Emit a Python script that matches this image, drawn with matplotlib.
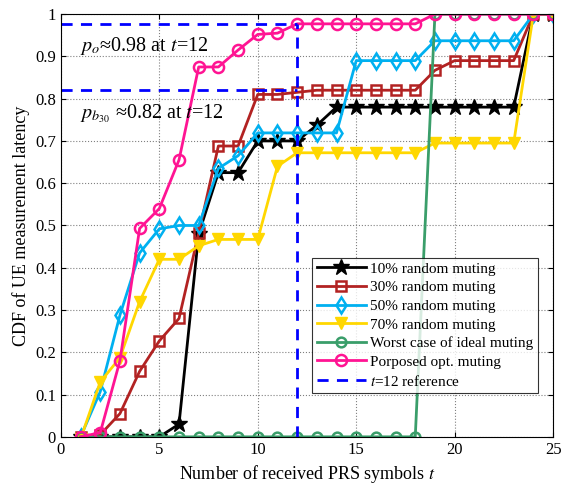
import matplotlib
matplotlib.use("Agg")
import matplotlib.pyplot as plt

plt.rcParams['font.family'] = ['Liberation Serif', 'DejaVu Serif']
plt.rcParams['mathtext.fontset'] = 'stix'

# Number of received PRS symbols
t = list(range(1, 26))

# CDF values
cdf_10 = [0, 0, 0, 0, 0, 0.03, 0.48, 0.625, 0.625, 0.70, 0.70, 0.70, 0.737, 0.78,
          0.78, 0.78, 0.78, 0.78, 0.78, 0.78, 0.78, 0.78, 0.78, 1.0, 1.0]
cdf_30 = [0, 0.005, 0.055, 0.155, 0.227, 0.28, 0.482, 0.688, 0.688, 0.81, 0.81, 0.815, 0.82, 0.82,
          0.82, 0.82, 0.82, 0.82, 0.867, 0.89, 0.89, 0.89, 0.89, 1.0, 1.0]
cdf_50 = [0, 0.107, 0.288, 0.435, 0.492, 0.50, 0.50, 0.635, 0.665, 0.719, 0.719, 0.719, 0.719, 0.719,
          0.89, 0.89, 0.89, 0.89, 0.937, 0.937, 0.937, 0.937, 0.937, 1.0, 1.0]
cdf_70 = [-0.005, 0.13, 0.187, 0.32, 0.42, 0.42, 0.452, 0.467, 0.467, 0.467, 0.64, 0.672, 0.672, 0.672,
          0.672, 0.672, 0.672, 0.672, 0.695, 0.695, 0.695, 0.695, 0.695, 1.0, 1.0]
cdf_worst = [0] * 18 + [1.0] * 7
cdf_opt = [0, 0.01, 0.18, 0.493, 0.54, 0.655, 0.875, 0.875, 0.915, 0.952, 0.955, 0.977, 0.977, 0.977,
           0.977, 0.977, 0.977, 0.977, 1.0, 1.0, 1.0, 1.0, 1.0, 1.0, 1.0]

t_ref = 12
p_opt = 0.977
p_b30 = 0.82

fig = plt.figure(figsize=(5.69, 4.87), dpi=100)
ax = fig.add_axes([0.107, 0.103, 0.865, 0.868])

ax.plot(t, cdf_10, color='black', lw=2, marker='*', ms=12, label='10% random muting')
ax.plot(t, cdf_30, color='#b22222', lw=2, marker='s', ms=7, mfc='none', mew=1.8,
        label='30% random muting')
ax.plot(t, cdf_50, color='#00b0f0', lw=2, marker='d', ms=8, mfc='none', mew=1.8,
        label='50% random muting')
ax.plot(t, cdf_70, color='#ffd700', lw=2, marker='v', ms=9, label='70% random muting')
ax.plot(t, cdf_worst, color='#3a9e6a', lw=2, marker='o', ms=7, mfc='none', mew=1.8,
        label='Worst case of ideal muting')
ax.plot(t, cdf_opt, color='#ff1493', lw=2, marker='o', ms=8, mfc='none', mew=1.8,
        label='Porposed opt. muting')

ax.plot([t_ref, t_ref], [0, p_opt], color='blue', lw=2, ls='--', dashes=(4, 3),
        label='$t$=12 reference')
ax.plot([0, t_ref], [p_opt, p_opt], color='blue', lw=2, ls='--', dashes=(4, 3))
ax.plot([0, t_ref], [p_b30, p_b30], color='blue', lw=2, ls='--', dashes=(4, 3))

ax.text(0.95, 0.925, r'$p_o$≈0.98 at $t$=12', fontsize=14.5, va='center')
ax.text(0.95, 0.765, r'$p_{b_{30}}$ ≈0.82 at $t$=12', fontsize=14.5, va='center')

ax.set_xlim(0, 25)
ax.set_ylim(0, 1)
ax.set_xticks([0, 5, 10, 15, 20, 25])
ax.set_yticks([i / 10 for i in range(11)])
ax.set_yticklabels(['0', '0.1', '0.2', '0.3', '0.4', '0.5', '0.6', '0.7', '0.8', '0.9', '1'])
ax.tick_params(direction='in', labelsize=12, top=True, right=True)
ax.grid(True, ls=':', color='gray', lw=0.8)
ax.set_xlabel('Number of received PRS symbols $t$', fontsize=13)
ax.set_ylabel('CDF of UE measurement latency', fontsize=13)

leg = ax.legend(loc='lower right', bbox_to_anchor=(0.985, 0.085), fontsize=11,
                handlelength=3.2, fancybox=False, edgecolor='black',
                borderpad=0.3, labelspacing=0.32, handletextpad=0.3)
leg.get_frame().set_linewidth(0.8)

fig.savefig('out.png', dpi=100)
